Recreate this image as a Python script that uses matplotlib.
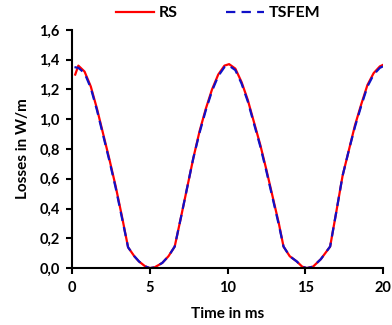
import numpy as np
import matplotlib
matplotlib.use("Agg")
import matplotlib.pyplot as plt
from matplotlib.ticker import FuncFormatter, MultipleLocator

# RS curve
t_rs = [0.2, 0.4, 0.8, 1.2, 1.6, 2.0, 2.4, 2.8, 3.2, 3.6, 4.0, 4.3, 4.7, 5.0,
        5.3, 5.8, 6.2, 6.6, 7.0, 7.4, 7.8, 8.2, 8.6, 9.0, 9.4, 9.8, 10.1,
        10.5, 10.9, 11.3, 11.7, 12.1, 12.5, 12.9, 13.3, 13.6, 14.0, 14.45,
        14.8, 15.1, 15.5, 16.0, 16.6, 17.0, 17.4, 17.8, 18.2, 18.6, 19.0,
        19.4, 19.8, 20.0]
rs = [1.30, 1.36, 1.32, 1.22, 1.07, 0.90, 0.73, 0.55, 0.35, 0.14, 0.08,
      0.045, 0.012, 0.0, 0.005, 0.035, 0.08, 0.145, 0.34, 0.54, 0.74, 0.92,
      1.07, 1.20, 1.30, 1.36, 1.37, 1.34, 1.25, 1.13, 0.98, 0.83, 0.66,
      0.48, 0.30, 0.145, 0.08, 0.045, 0.01, 0.0, 0.01, 0.06, 0.145, 0.38,
      0.62, 0.79, 0.96, 1.10, 1.23, 1.31, 1.355, 1.365]

# TSFEM curve
t_ts = [0.15, 0.4, 0.8, 1.2, 1.6, 2.0, 2.4, 2.8, 3.2, 3.6, 4.0, 4.3, 4.7,
        5.0, 5.3, 5.8, 6.2, 6.6, 7.0, 7.4, 7.8, 8.2, 8.6, 9.0, 9.4, 9.8,
        10.1, 10.5, 10.9, 11.3, 11.7, 12.1, 12.5, 12.9, 13.3, 13.6, 14.0,
        14.45, 14.8, 15.1, 15.5, 16.0, 16.6, 17.0, 17.4, 17.8, 18.2, 18.6,
        19.0, 19.4, 19.8, 20.0]
tsfem = [1.35, 1.345, 1.31, 1.21, 1.06, 0.89, 0.72, 0.54, 0.34, 0.14, 0.08,
         0.045, 0.012, 0.0, 0.005, 0.035, 0.08, 0.145, 0.34, 0.54, 0.74,
         0.91, 1.06, 1.19, 1.29, 1.35, 1.36, 1.33, 1.24, 1.12, 0.97, 0.82,
         0.65, 0.47, 0.29, 0.145, 0.08, 0.045, 0.01, 0.0, 0.01, 0.06, 0.145,
         0.38, 0.62, 0.79, 0.95, 1.09, 1.22, 1.30, 1.345, 1.355]

plt.rcParams['font.family'] = ['Lato', 'DejaVu Sans']
plt.rcParams['font.weight'] = 'bold'

fig = plt.figure(figsize=(3.92, 3.25), dpi=100)
ax = fig.add_axes([0.184, 0.175, 0.793, 0.733])

ax.plot(t_rs, rs, color='#FF0000', lw=1.6, label='RS')
ax.plot(t_ts, tsfem, color='#1010C8', lw=1.6, ls=(0, (4.2, 2.8)), label='TSFEM')

ax.set_xlim(0, 20)
ax.set_ylim(0, 1.6)
ax.xaxis.set_major_locator(MultipleLocator(5))
ax.yaxis.set_major_locator(MultipleLocator(0.2))
ax.yaxis.set_major_formatter(FuncFormatter(lambda v, p: f'{v:.1f}'.replace('.', ',')))

for s in ['top', 'right']:
    ax.spines[s].set_visible(False)
for s in ['left', 'bottom']:
    ax.spines[s].set_linewidth(1.5)
ax.tick_params(width=1.5, length=4, labelsize=10.5, pad=5)
for lab in ax.get_xticklabels() + ax.get_yticklabels():
    lab.set_fontweight('bold')

ax.set_xlabel('Time in ms', fontsize=11, fontweight='bold', labelpad=9)
ax.set_ylabel('Losses in W/m', fontsize=11, fontweight='bold', labelpad=7)

leg = ax.legend(loc='lower center', bbox_to_anchor=(0.47, 1.0), ncol=2,
                frameon=False, fontsize=11.5, handlelength=2.4,
                columnspacing=3.0, handletextpad=0.3, borderaxespad=0.2)
for tx in leg.get_texts():
    tx.set_fontweight('bold')

fig.savefig('out.png', dpi=100)
